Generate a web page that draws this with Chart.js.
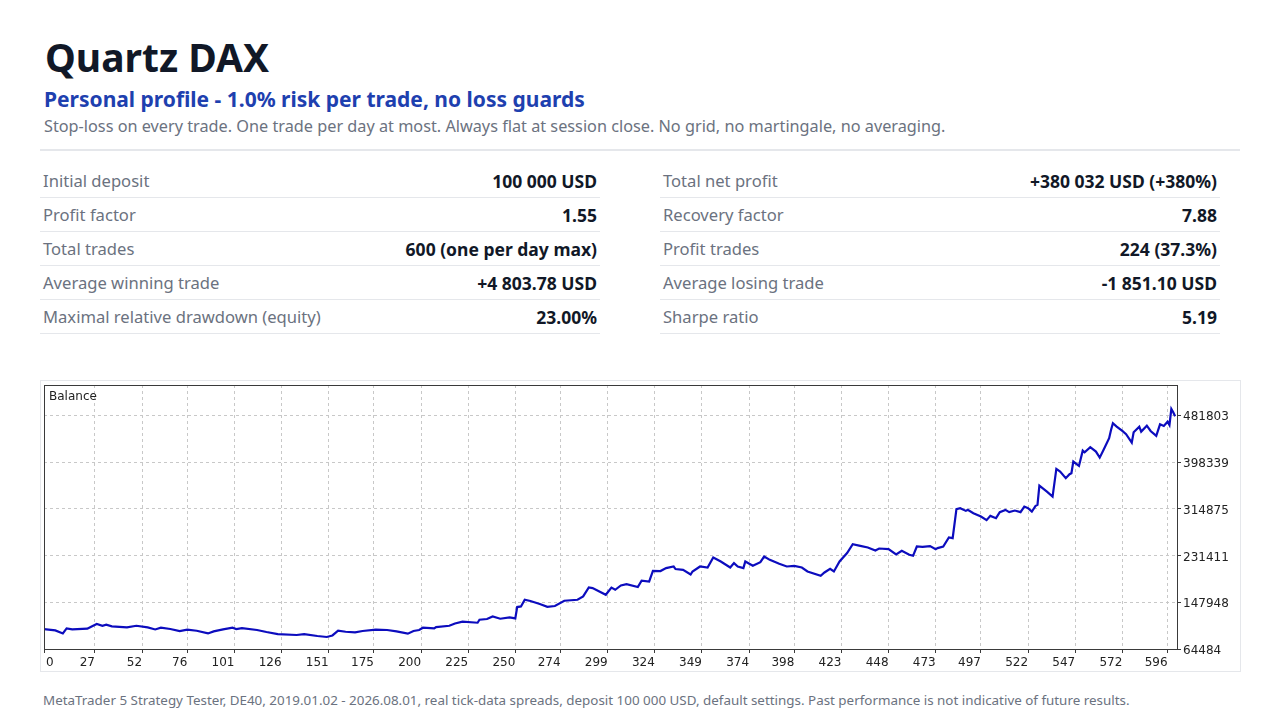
<!DOCTYPE html>
<html lang="en">
<head>
  <meta charset="UTF-8" />
  <title>Quartz DAX - balance</title>
  <style>
    body { margin: 0; background: #fff; font-family: "Noto Sans", "Open Sans", sans-serif; }
    .page { position: relative; width: 1280px; height: 720px; overflow: hidden; }
    h1 { position: absolute; left: 45px; top: 32px; margin: 0; font-size: 39px; line-height: 50px; font-weight: 700; color: #111827; }
    h2 { position: absolute; left: 44px; top: 85px; margin: 0; font-size: 21px; line-height: 28px; font-weight: 700; color: #1e40af; }
    .lead { position: absolute; left: 44px; top: 114px; margin: 0; font-size: 16.25px; line-height: 24px; color: #6b7280; }
    .rule { position: absolute; left: 40px; top: 149px; width: 1200px; border-top: 2px solid #e5e7eb; }
    .stats { position: absolute; top: 164px; width: 560px; border-collapse: collapse; }
    .stats td { height: 33px; padding: 0 3px; border-bottom: 1px solid #e5e7eb; white-space: nowrap; }
    .stats td.k { color: #6b7280; font-size: 16.6px; }
    .stats td.v { color: #111827; font-size: 17.5px; font-weight: 700; text-align: right; }
    .panel { position: absolute; left: 40px; top: 380px; width: 1199px; height: 290px; border: 1px solid #e5e7eb; }
    .foot { position: absolute; left: 43px; top: 690px; margin: 0; font-size: 13.4px; line-height: 20px; color: #6b7280; }
  </style>
</head>
<body>
  <div class="page">
    <h1>Quartz DAX</h1>
    <h2>Personal profile - 1.0% risk per trade, no loss guards</h2>
    <p class="lead">Stop-loss on every trade. One trade per day at most. Always flat at session close. No grid, no martingale, no averaging.</p>
    <div class="rule"></div>
    <table class="stats" id="statsLeft" style="left:40px"></table>
    <table class="stats" id="statsRight" style="left:660px"></table>
    <div class="panel"><canvas id="balance"></canvas></div>
    <p class="foot">MetaTrader 5 Strategy Tester, DE40, 2019.01.02 - 2026.08.01, real tick-data spreads, deposit 100 000 USD, default settings. Past performance is not indicative of future results.</p>
  </div>

  <script src="https://cdn.jsdelivr.net/npm/chart.js@4.4.1/dist/chart.umd.min.js"></script>
  <script>
    // report figures
    const leftKeys = ['Initial deposit', 'Profit factor', 'Total trades', 'Average winning trade', 'Maximal relative drawdown (equity)'];
    const leftVals = ['100 000 USD', '1.55', '600 (one per day max)', '+4 803.78 USD', '23.00%'];
    const rightKeys = ['Total net profit', 'Recovery factor', 'Profit trades', 'Average losing trade', 'Sharpe ratio'];
    const rightVals = ['+380 032 USD (+380%)', '7.88', '224 (37.3%)', '-1 851.10 USD', '5.19'];

    // balance curve (trade number -> balance)
    const trades = [
      0, 6, 10, 12, 15, 23, 25, 28, 31, 33, 36, 44, 49, 55, 59, 62, 67, 72, 76, 81,
      87, 90, 95, 100, 102, 105, 113, 118, 124, 134, 138, 145, 150, 153, 156, 160, 165, 169, 176, 182,
      187, 193, 196, 199, 201, 207, 208, 215, 218, 222, 230, 231, 235, 238, 242, 247, 250, 251, 253, 255,
      258, 263, 267, 271, 276, 283, 286, 289, 291, 298, 301, 303, 306, 309, 315, 317, 321, 323, 327, 330,
      334, 335, 339, 343, 344, 348, 352, 355, 359, 364, 366, 368, 371, 372, 376, 380, 382, 385, 390, 394,
      398, 402, 405, 412, 414, 417, 419, 422, 426, 429, 433, 437, 441, 443, 448, 452, 455, 459, 461, 463,
      466, 470, 473, 474, 477, 480, 482, 484, 486, 489, 490, 493, 497, 500, 502, 505, 507, 510, 512, 515,
      518, 520, 522, 524, 526, 527, 528, 532, 535, 537, 539, 542, 544, 545, 546, 549, 551, 552, 555, 558,
      560, 562, 565, 566, 567, 569, 572, 574, 577, 578, 581, 582, 585, 587, 590, 592, 594, 596, 597, 598,
      599, 600
    ];
    const balance = [
      100000, 97700, 92300, 101200, 99400, 100700, 104300, 109100, 106000, 107800, 104800, 103000, 106000, 103000, 99400, 102500, 100200, 96600, 98900, 97100,
      92300, 95900, 99400, 102500, 100200, 101900, 98400, 94800, 91200, 89500, 91200, 87700, 85900, 88700, 97200, 95300, 94100, 96600, 98900, 98400,
      95900, 91800, 96600, 98400, 102500, 101200, 103700, 106000, 110100, 113200, 111400, 116700, 118000, 122600, 118500, 120800, 119100, 139400, 140500, 152400,
      150100, 144700, 139900, 141200, 150600, 152400, 158300, 174300, 173300, 161300, 174000, 170200, 177900, 180400, 175100, 186300, 185000, 204100, 203600, 208900,
      211800, 207200, 205900, 197500, 202900, 211800, 210000, 227800, 220700, 210000, 217900, 211800, 208900, 220700, 213000, 219600, 229600, 223700, 216600, 211800,
      213000, 210000, 202900, 195200, 201100, 207700, 202900, 220700, 235700, 251700, 248700, 245700, 240300, 243900, 242800, 233200, 239800, 232700, 230900, 247500,
      246900, 248200, 242800, 244600, 247500, 263500, 262400, 314200, 315900, 311100, 312900, 307000, 301000, 294500, 302200, 298100, 308800, 312900, 308800, 311700,
      308800, 318800, 315900, 309900, 320000, 321800, 356200, 345500, 336600, 386000, 381200, 369400, 376600, 378400, 399100, 391400, 418700, 415800, 424700, 416900,
      406200, 419900, 440800, 455600, 467500, 461500, 453800, 447900, 432900, 451500, 461500, 452600, 463300, 453800, 444900, 465700, 462700, 470400, 464500, 493000,
      487200, 480032
    ];

    // axis marks as printed by the tester
    const xTicks = [0, 27, 52, 76, 101, 126, 151, 175, 200, 225, 250, 274, 299, 324, 349, 374, 398, 423, 448, 473, 497, 522, 547, 572, 596];
    const yTicks = [64484, 147948, 231411, 314875, 398339, 481803];
    const xMax = 601;
    const yMax = 535850;

    function fillStats(id, keys, vals) {
      const table = document.getElementById(id);
      table.innerHTML = keys.map((k, i) => `<tr><td class="k">${k}</td><td class="v">${vals[i]}</td></tr>`).join('');
    }
    fillStats('statsLeft', leftKeys, leftVals);
    fillStats('statsRight', rightKeys, rightVals);

    const axisFont = { family: '"DejaVu Sans", sans-serif', size: 12 };

    // frame round the plot, "Balance" caption, first x label pushed inside
    const testerFrame = {
      id: 'testerFrame',
      beforeDraw(chart) {
        const items = chart.scales.x.getLabelItems();
        if (items.length) {
          items[0].options.textAlign = 'left';
          items[0].options.translation[0] += 2;
        }
      },
      afterDraw(chart) {
        const { ctx, chartArea: a } = chart;
        ctx.save();
        ctx.strokeStyle = '#3a3a3a';
        ctx.lineWidth = 1;
        ctx.strokeRect(Math.round(a.left) + 0.5, Math.round(a.top) + 0.5, Math.round(a.right - a.left), Math.round(a.bottom - a.top));
        ctx.fillStyle = '#222';
        ctx.font = '12px "DejaVu Sans", sans-serif';
        ctx.textBaseline = 'middle';
        ctx.fillText('Balance', a.left + 5, a.top + 12);
        ctx.restore();
      }
    };

    new Chart(document.getElementById('balance'), {
      type: 'line',
      data: {
        datasets: [{
          label: 'Balance',
          data: trades.map((t, i) => ({ x: t, y: balance[i] })),
          borderColor: '#0c0cbe',
          borderWidth: 2.2,
          pointRadius: 0,
          tension: 0,
          fill: false
        }]
      },
      options: {
        responsive: true,
        maintainAspectRatio: false,
        animation: false,
        layout: { padding: { left: 3, top: 4, right: 0, bottom: 0 } },
        plugins: { legend: { display: false }, tooltip: { enabled: false } },
        scales: {
          x: {
            type: 'linear',
            min: 0,
            max: xMax,
            afterBuildTicks: s => { s.ticks = xTicks.map(v => ({ value: v })); },
            afterFit: s => { s.height = 22; s.paddingLeft = 0; s.paddingRight = 0; },
            grid: { color: '#c8c8c8', tickColor: '#3a3a3a', tickLength: 4, tickBorderDash: [] },
            border: { color: '#3a3a3a', dash: [3, 3] },
            ticks: { font: axisFont, color: '#222', padding: 3, align: 'end', maxRotation: 0, minRotation: 0, autoSkip: false, callback: v => String(v) }
          },
          y: {
            position: 'right',
            min: yTicks[0],
            max: yMax,
            afterBuildTicks: s => { s.ticks = yTicks.map(v => ({ value: v })); },
            afterFit: s => { s.width = 63; s.paddingTop = 0; s.paddingBottom = 0; },
            grid: { color: '#c8c8c8', tickColor: '#3a3a3a', tickLength: 4, tickBorderDash: [] },
            border: { color: '#3a3a3a', dash: [3, 3] },
            ticks: { font: axisFont, color: '#222', padding: 2, labelOffset: 2, callback: v => String(v) }
          }
        }
      },
      plugins: [testerFrame]
    });
  </script>
</body>
</html>
